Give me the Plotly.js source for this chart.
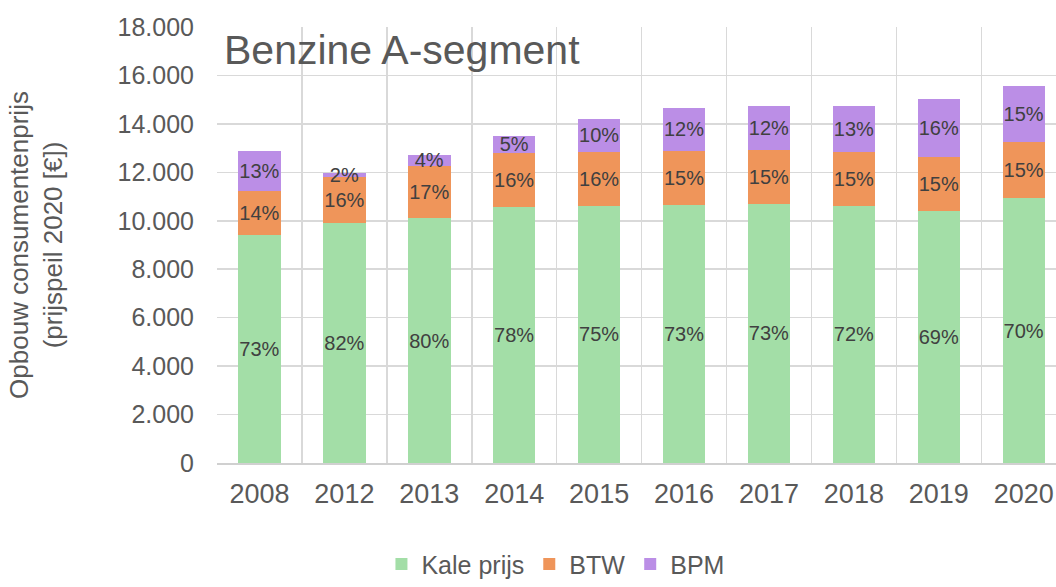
<!DOCTYPE html>
<html>
<head>
<meta charset="utf-8">
<script src="https://cdn.plot.ly/plotly-3.0.1.min.js"></script>
<style>
html,body{margin:0;padding:0;background:#fff;overflow:hidden;}
#chart{width:1056px;height:587px;}
</style>
</head>
<body>
<div id="chart"></div>
<script>
const years = ['2008','2012','2013','2014','2015','2016','2017','2018','2019','2020'];
const kalePrijs = [9420, 9890, 10110, 10560, 10620, 10660, 10710, 10620, 10420, 10940];
const btw = [1790, 1910, 2160, 2240, 2240, 2230, 2230, 2230, 2210, 2330];
const bpm = [1690, 190, 450, 710, 1360, 1760, 1790, 1880, 2410, 2280];
const kaleLabels = ['73%','82%','80%','78%','75%','73%','73%','72%','69%','70%'];
const btwLabels = ['14%','16%','17%','16%','16%','15%','15%','15%','15%','15%'];
const bpmLabels = ['13%','2%','4%','5%','10%','12%','12%','13%','16%','15%'];
const seriesNames = ['Kale prijs','BTW','BPM'];
const colors = ['#a3dea7','#ef955a','#bb8ee6'];

const FONT = 'Liberation Sans, Arial, sans-serif';
const labelFont = {family: FONT, size: 20, color: '#404040'};

function mk(name, vals, labels, color) {
  return {
    type: 'bar', name: name, x: years, y: vals,
    text: labels, texttemplate: '%{text}',
    textposition: 'inside', insidetextanchor: 'middle',
    constraintext: 'none', textangle: 0,
    textfont: labelFont, insidetextfont: labelFont,
    marker: {color: color, line: {width: 0}},
    hoverinfo: 'x+y+name'
  };
}

const data = [
  mk(seriesNames[0], kalePrijs, kaleLabels, colors[0]),
  mk(seriesNames[1], btw, btwLabels, colors[1]),
  mk(seriesNames[2], bpm, bpmLabels, colors[2])
];

const layout = {
  width: 1056, height: 587,
  margin: {l: 217, r: 0, t: 27, b: 123.5, autoexpand: false},
  barmode: 'stack', bargap: 0.5,
  separators: ',.',
  paper_bgcolor: '#fff', plot_bgcolor: '#fff',
  font: {family: FONT, color: '#595959'},
  xaxis: {
    type: 'category', range: [-0.5, 9.38],
    tickson: 'boundaries', ticks: '',
    showgrid: true, gridcolor: '#d9d9d9', gridwidth: 1.5,
    showline: true, linecolor: '#d0d0d0', linewidth: 1.5,
    tickfont: {family: FONT, size: 27, color: '#595959'},
    ticklabelstandoff: 6, automargin: false
  },
  yaxis: {
    range: [0, 18000], dtick: 2000, tickformat: ',',
    showgrid: true, gridcolor: '#d9d9d9', gridwidth: 1.5,
    zeroline: false, showline: false, ticks: '',
    tickfont: {family: FONT, size: 25, color: '#595959'},
    ticklabelstandoff: 22, automargin: false,
    title: {text: 'Opbouw consumentenprijs<br>(prijspeil 2020 [€])', font: {family: FONT, size: 26, color: '#595959'}, standoff: 47}
  },
  legend: {
    orientation: 'h', x: 0.196, xanchor: 'left', y: -0.232, yanchor: 'middle',
    font: {family: FONT, size: 25, color: '#595959'},
    itemwidth: 30, tracegroupgap: 0, traceorder: 'normal'
  },
  showlegend: true,
  annotations: [{
    text: 'Benzine A-segment', xref: 'paper', yref: 'paper',
    x: 0.006, y: 0.947, xanchor: 'left', yanchor: 'middle', showarrow: false,
    font: {family: FONT, size: 41, color: '#595959'}
  }]
};

Plotly.newPlot('chart', data, layout, {displayModeBar: false, staticPlot: true});
</script>
</body>
</html>
